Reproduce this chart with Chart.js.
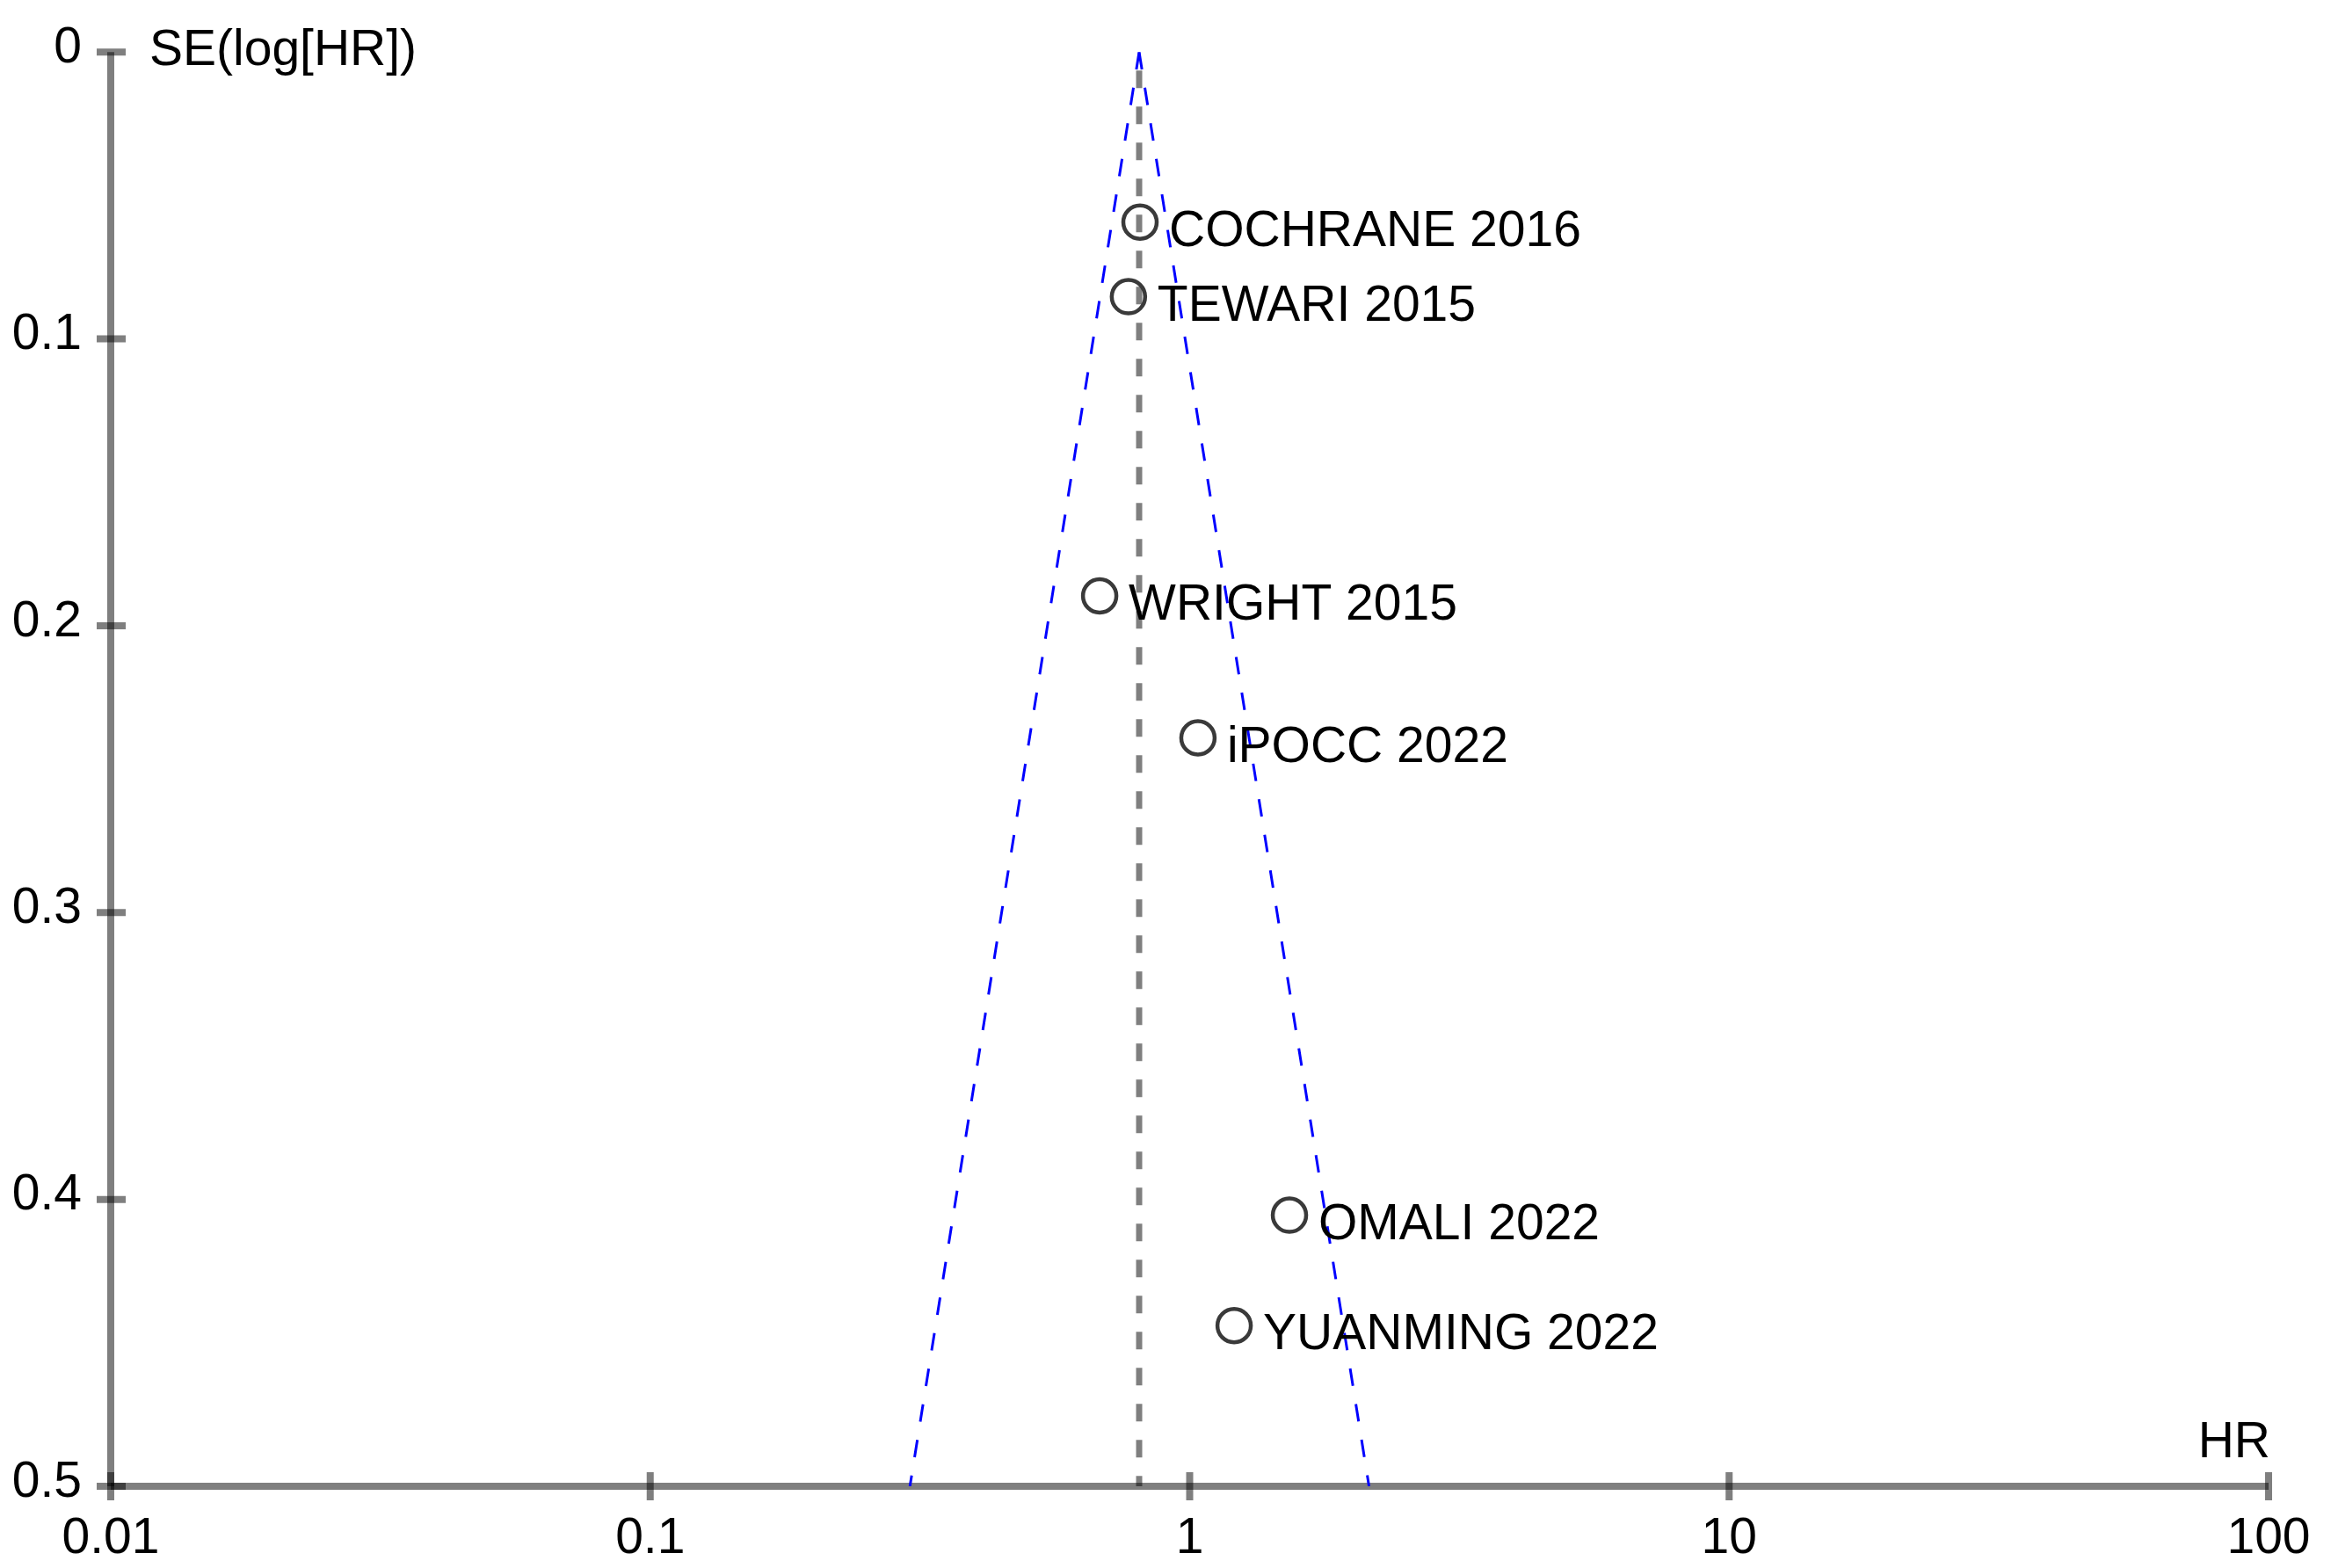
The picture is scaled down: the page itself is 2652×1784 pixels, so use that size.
<!DOCTYPE html>
<html>
<head>
<meta charset="utf-8">
<title>Funnel plot</title>
<script src="https://cdnjs.cloudflare.com/ajax/libs/Chart.js/4.4.1/chart.umd.min.js"></script>
<style>
  html, body { margin: 0; padding: 0; background: #fff; }
  #wrap { width: 2652px; height: 1784px; }
</style>
</head>
<body>
<div id="wrap"><canvas id="funnel" width="2652" height="1784"></canvas></div>
<script>
// study estimates
const studies = ['COCHRANE 2016', 'TEWARI 2015', 'WRIGHT 2015', 'iPOCC 2022', 'OMALI 2022', 'YUANMING 2022'];
const hr = [0.809, 0.770, 0.681, 1.036, 1.531, 1.209];
const seLogHr = [0.0593, 0.0853, 0.1896, 0.2391, 0.4055, 0.444];

// pooled estimate and pseudo 95% limits
const pooledHr = 0.806;
const funnelSe = [0, 0.5];
const funnelLow = [0.806, 0.303];
const funnelHigh = [0.806, 2.15];

// axes
const xTicks = [0.01, 0.1, 1, 10, 100];
const xTickLabels = ['0.01', '0.1', '1', '10', '100'];
const yTicks = [0, 0.1, 0.2, 0.3, 0.4, 0.5];
const yTickLabels = ['0', '0.1', '0.2', '0.3', '0.4', '0.5'];
const xTitle = 'HR';
const yTitle = 'SE(log[HR])';

const FONT = '"Liberation Sans", Arial, Helvetica, sans-serif';
const AXIS_COLOR = 'rgba(0,0,0,0.5)';

const pts = studies.map((s, i) => ({ x: hr[i], y: seLogHr[i] }));

const axisPlugin = {
  id: 'funnelAxes',
  beforeDatasetsDraw(chart) {
    const { ctx, chartArea: a, scales: { x, y } } = chart;
    ctx.save();
    ctx.strokeStyle = AXIS_COLOR;
    ctx.lineWidth = 8;
    ctx.lineCap = 'butt';
    // each stroke separately so the crossings get darker, like the original
    const seg = (x1, y1, x2, y2) => {
      ctx.beginPath(); ctx.moveTo(x1, y1); ctx.lineTo(x2, y2); ctx.stroke();
    };
    seg(a.left, a.top, a.left, a.bottom);
    seg(a.left, a.bottom, a.right, a.bottom);
    yTicks.forEach(v => {
      const py = y.getPixelForValue(v);
      seg(a.left - 16, py, a.left + 17, py);
    });
    xTicks.forEach(v => {
      const px = x.getPixelForValue(v);
      seg(px, a.bottom - 16, px, a.bottom + 16);
    });
    ctx.restore();
  },
  afterDatasetsDraw(chart) {
    const { ctx, chartArea: a } = chart;
    ctx.save();
    ctx.fillStyle = '#000';
    ctx.font = '57px ' + FONT;
    ctx.textBaseline = 'alphabetic';
    // study labels next to their circles
    const meta = chart.getDatasetMeta(0);
    meta.data.forEach((el, i) => {
      ctx.textAlign = 'left';
      ctx.fillText(studies[i], el.x + 33, el.y + 27);
    });
    // axis titles
    ctx.textAlign = 'left';
    ctx.fillText(yTitle, a.left + 44, a.top + 15);
    ctx.textAlign = 'right';
    ctx.fillText(xTitle, a.right + 2, a.bottom - 33);
    ctx.restore();
  }
};

new Chart(document.getElementById('funnel'), {
  type: 'scatter',
  data: {
    datasets: [
      {
        label: 'Studies',
        data: pts,
        pointStyle: 'circle',
        pointRadius: 19,
        pointHoverRadius: 19,
        pointBorderWidth: 4.5,
        pointBorderColor: '#3a3a3a',
        pointBackgroundColor: 'rgba(0,0,0,0)',
        showLine: false
      },
      {
        label: 'Pooled',
        data: [{ x: pooledHr, y: 0 }, { x: pooledHr, y: 0.5 }],
        showLine: true,
        borderColor: AXIS_COLOR,
        borderWidth: 7,
        borderDash: [20, 21],
        borderDashOffset: 20,
        pointRadius: 0
      },
      {
        label: 'Lower limit',
        data: funnelSe.map((s, i) => ({ x: funnelLow[i], y: s })),
        showLine: true,
        borderColor: '#0000ff',
        borderWidth: 3,
        borderDash: [20, 21],
        pointRadius: 0
      },
      {
        label: 'Upper limit',
        data: funnelSe.map((s, i) => ({ x: funnelHigh[i], y: s })),
        showLine: true,
        borderColor: '#0000ff',
        borderWidth: 3,
        borderDash: [20, 21],
        pointRadius: 0
      }
    ]
  },
  options: {
    responsive: false,
    devicePixelRatio: 1,
    animation: false,
    layout: { padding: { top: 56, right: 71, left: 0, bottom: 0 } },
    plugins: { legend: { display: false }, tooltip: { enabled: false } },
    scales: {
      x: {
        type: 'logarithmic',
        min: 0.01,
        max: 100,
        grid: { display: false },
        border: { display: false },
        afterBuildTicks(s) { s.ticks = xTicks.map(v => ({ value: v })); },
        afterFit(s) { s.height = 93; },
        ticks: {
          color: '#000',
          font: { family: FONT, size: 57 },
          padding: 18,
          maxRotation: 0,
          autoSkip: false,
          callback(v) { const i = xTicks.indexOf(v); return i >= 0 ? xTickLabels[i] : ''; }
        }
      },
      y: {
        type: 'linear',
        reverse: true,
        min: 0,
        max: 0.5,
        grid: { display: false },
        border: { display: false },
        afterBuildTicks(s) { s.ticks = yTicks.map(v => ({ value: v })); },
        afterFit(s) { s.width = 126; },
        ticks: {
          color: '#000',
          font: { family: FONT, size: 57 },
          padding: 25,
          labelOffset: -4,
          autoSkip: false,
          callback(v) { const i = yTicks.indexOf(v); return i >= 0 ? yTickLabels[i] : ''; }
        }
      }
    }
  },
  plugins: [axisPlugin]
});
</script>
</body>
</html>
